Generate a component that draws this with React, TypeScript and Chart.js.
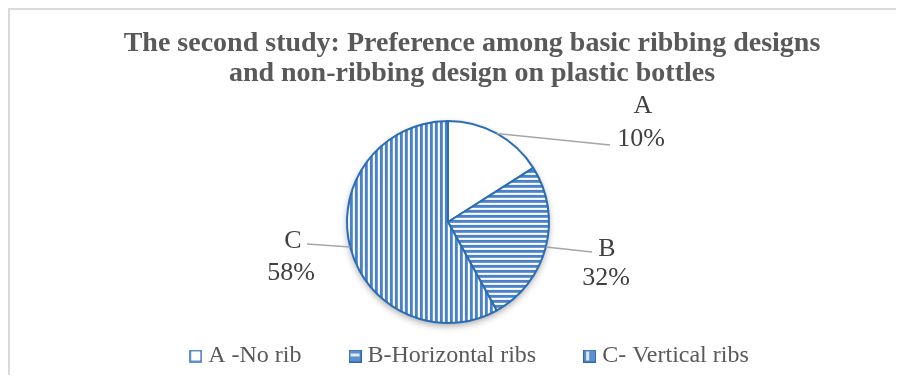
import React, { useEffect, useRef } from "react";
import { Chart, registerables } from "chart.js";

Chart.register(...registerables);

const categories = ["A -No rib", "B-Horizontal ribs", "C- Vertical ribs"];
const sliceNames = ["A", "B", "C"];
// slice shares as drawn in the picture
const sliceShares = [16, 26, 58];
// percentage labels as printed in the picture
const labelPercents = ["10%", "32%", "58%"];
const titleLines = [
  "The second study: Preference among basic ribbing designs",
  "and non-ribbing design on plastic bottles",
];

const SERIF = "'Liberation Serif', 'Times New Roman', serif";
const BORDER = "#2b6db5";

function makeStripes(ctx: CanvasRenderingContext2D, vertical: boolean) {
  const c = document.createElement("canvas");
  c.width = 5;
  c.height = 5;
  const g = c.getContext("2d")!;
  const cols = ["#4a81c8", "#4a81c8", "#6d99d3", "#ffffff", "#eaf1f9"];
  cols.forEach((col, i) => {
    g.fillStyle = col;
    if (vertical) g.fillRect(i, 0, 1, 5);
    else g.fillRect(0, i, 5, 1);
  });
  return ctx.createPattern(c, "repeat")!;
}

function makeSwatch(kind: number) {
  const c = document.createElement("canvas");
  c.width = 13;
  c.height = 13;
  const g = c.getContext("2d")!;
  if (kind === 0) {
    g.fillStyle = "#ffffff";
    g.fillRect(0, 0, 13, 13);
    g.strokeStyle = BORDER;
    g.lineWidth = 1.5;
    g.strokeRect(1, 1, 11, 11);
  } else {
    g.fillStyle = "#2f66ad";
    g.fillRect(0, 0, 13, 13);
    g.fillStyle = "#5a8fd0";
    g.fillRect(1, 1, 11, 11);
    g.fillStyle = "#dfe9f6";
    if (kind === 1) g.fillRect(2, 4, 9, 3);
    else g.fillRect(3, 2, 3, 9);
  }
  return c;
}

// label placement relative to pie centre (leader end, name centre/baseline, percent centre/baseline)
const leaderEnds = [[162, -77], [144, 30], [-141, 22]];
const nameOffsets = [[195, -109], [159, 34], [-155, 26]];
const pctOffsets = [[193, -76], [158, 63], [-157, 58]];

const shiftPlugin = {
  id: "shiftArea",
  afterLayout(chart: any) {
    chart.chartArea.right -= 48;
    chart.chartArea.width = chart.chartArea.right - chart.chartArea.left;
  },
};

const shadowPlugin = {
  id: "pieShadow",
  beforeDatasetsDraw(chart: any) {
    const arc = chart.getDatasetMeta(0).data[0];
    if (!arc) return;
    const { x, y, outerRadius } = arc.getProps(["x", "y", "outerRadius"], true);
    const ctx = chart.ctx;
    ctx.save();
    ctx.shadowColor = "rgba(0,0,0,0.35)";
    ctx.shadowBlur = 7;
    ctx.shadowOffsetY = 3;
    ctx.fillStyle = "#ffffff";
    ctx.beginPath();
    ctx.arc(x, y, outerRadius, 0, Math.PI * 2);
    ctx.fill();
    ctx.restore();
  },
};

const labelPlugin = {
  id: "pieLabels",
  afterDatasetsDraw(chart: any) {
    const ctx = chart.ctx;
    const meta = chart.getDatasetMeta(0);
    meta.data.forEach((arc: any, i: number) => {
      const { x, y, outerRadius, startAngle, endAngle } = arc.getProps(
        ["x", "y", "outerRadius", "startAngle", "endAngle"],
        true
      );
      const mid = (startAngle + endAngle) / 2;
      const sx = x + Math.cos(mid) * outerRadius;
      const sy = y + Math.sin(mid) * outerRadius;
      ctx.save();
      ctx.strokeStyle = "#a6a6a6";
      ctx.lineWidth = 1.5;
      ctx.beginPath();
      ctx.moveTo(sx, sy);
      ctx.lineTo(x + leaderEnds[i][0], y + leaderEnds[i][1]);
      ctx.stroke();
      ctx.fillStyle = "#404040";
      ctx.font = `26px ${SERIF}`;
      ctx.textAlign = "center";
      ctx.textBaseline = "alphabetic";
      ctx.fillText(sliceNames[i], x + nameOffsets[i][0], y + nameOffsets[i][1]);
      ctx.fillText(labelPercents[i], x + pctOffsets[i][0], y + pctOffsets[i][1]);
      ctx.restore();
    });
  },
};

export default function App() {
  const ref = useRef<HTMLCanvasElement>(null);
  useEffect(() => {
    const canvas = ref.current!;
    const ctx = canvas.getContext("2d")!;
    const fills = ["#ffffff", makeStripes(ctx, false), makeStripes(ctx, true)];
    const swatches = categories.map((_, i) => makeSwatch(i));
    const chart = new Chart(canvas, {
      type: "pie",
      data: {
        labels: categories,
        datasets: [
          {
            data: sliceShares,
            backgroundColor: fills as any,
            borderColor: BORDER,
            borderWidth: 2,
            radius: 101,
          } as any,
        ],
      },
      options: {
        animation: false,
        responsive: false,
        layout: { padding: { left: 38, right: 0, top: 0, bottom: -3 } },
        plugins: {
          tooltip: { enabled: false },
          title: {
            display: true,
            text: titleLines,
            color: "#595959",
            font: { family: SERIF, size: 28, weight: "bold", lineHeight: "30px" },
            padding: { top: 19, bottom: 64 },
          },
          legend: {
            display: true,
            position: "bottom",
            labels: {
              color: "#595959",
              font: { family: SERIF, size: 24 },
              usePointStyle: true,
              boxWidth: 1,
              padding: 53,
              generateLabels: (ch: any) =>
                ch.data.labels.map((text: string, i: number) => ({
                  text,
                  fillStyle: "#ffffff",
                  strokeStyle: BORDER,
                  lineWidth: 0,
                  pointStyle: swatches[i],
                  fontColor: "#595959",
                  hidden: false,
                  index: i,
                })),
            },
          },
        },
      },
      plugins: [shiftPlugin, shadowPlugin, labelPlugin],
    });
    return () => chart.destroy();
  }, []);
  return (
    <div
      style={{
        width: 886,
        height: 365,
        borderTop: "2px solid #dadada",
        borderLeft: "2px solid #dadada",
        background: "#fff",
      }}
    >
      <canvas ref={ref} width={886} height={365} style={{ display: "block" }} />
    </div>
  );
}
